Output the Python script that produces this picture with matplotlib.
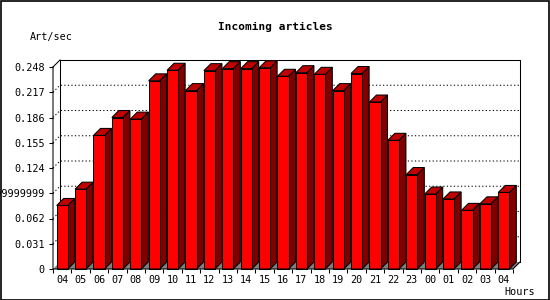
import matplotlib
matplotlib.use("Agg")
import matplotlib.pyplot as plt
from matplotlib.patches import Polygon, Rectangle

hours = ["04", "05", "06", "07", "08", "09", "10", "11", "12", "13", "14", "15",
         "16", "17", "18", "19", "20", "21", "22", "23", "00", "01", "02", "03", "04"]
values = [0.078, 0.098, 0.164, 0.186, 0.184, 0.231, 0.244, 0.219, 0.2435, 0.246,
          0.246, 0.247, 0.2366, 0.241, 0.239, 0.219, 0.240, 0.205, 0.158, 0.116,
          0.092, 0.086, 0.072, 0.080, 0.094]
yticks = [0, 0.031, 0.062, 0.093, 0.124, 0.155, 0.186, 0.217, 0.248]
ytick_labels = ["0", "0.031", "0.062", "0.0929999999999999", "0.124", "0.155",
                "0.186", "0.217", "0.248"]
title = "Incoming articles"
ylabel = "Art/sec"
xlabel = "Hours"

W, H = 550, 300
FONT = "DejaVu Sans Mono"
fig = plt.figure(figsize=(W / 100, H / 100), dpi=100)
fig.patch.set_facecolor("white")
ax = fig.add_axes([53 / W, 31 / H, 460 / W, 202 / H])
n = len(values)
ymax = yticks[-1]
ax.set_xlim(0, n)
ax.set_ylim(0, ymax)
ax.patch.set_alpha(0)
for s in ax.spines.values():
    s.set_visible(False)

dx = 7 * n / 460.0
dy = 7 * ymax / 202.0
lw = 0.75

# floor
ax.add_patch(Polygon([(0, 0), (n, 0), (n + dx, dy), (dx, dy)], closed=True,
                     facecolor="#808080", edgecolor="none", zorder=1, clip_on=False))
# gridlines on back wall
for v in yticks[1:-1]:
    ax.plot([0, dx, n + dx], [v, v + dy, v + dy], color="black", lw=lw,
            linestyle=(0, (1.2, 2.2)), zorder=1.5, clip_on=False)
# back wall outline
ax.plot([dx, dx, n + dx, n + dx], [dy, ymax + dy, ymax + dy, dy], color="black",
        lw=lw, zorder=1.6, clip_on=False)
ax.plot([0, dx], [ymax, ymax + dy], color="black", lw=lw, zorder=1.6, clip_on=False)

# bars
fw = 0.6
off = 0.2
for i, v in enumerate(values):
    x0 = i + off
    x1 = x0 + fw
    ax.add_patch(Polygon([(x1, 0), (x1 + dx, dy), (x1 + dx, v + dy), (x1, v)], closed=True,
                         facecolor="#800000", edgecolor="black", lw=lw, zorder=3, clip_on=False))
    ax.add_patch(Polygon([(x0, v), (x1, v), (x1 + dx, v + dy), (x0 + dx, v + dy)], closed=True,
                         facecolor="#C00000", edgecolor="black", lw=lw, zorder=3, clip_on=False))
    ax.add_patch(Rectangle((x0, 0), fw, v, facecolor="#FF0000", edgecolor="black",
                           lw=lw, zorder=3.5, clip_on=False))

# front axes lines
ax.plot([0, 0, n, n + dx], [ymax, 0, 0, dy], color="black", lw=lw, zorder=4, clip_on=False)

# ticks
ax.set_xticks(range(n + 1))
ax.set_xticklabels([])
ax.set_xticks([i + 0.5 for i in range(n)], minor=True)
ax.set_xticklabels(hours, minor=True, fontfamily=FONT, fontsize=7.3)
ax.tick_params(axis="x", which="major", length=3, width=lw, direction="out")
ax.tick_params(axis="x", which="minor", length=0, pad=4)
ax.set_yticks(yticks)
ax.set_yticklabels(ytick_labels, fontfamily=FONT, fontsize=7.3)
ax.tick_params(axis="y", length=3, width=lw, direction="out", pad=3)
ax.tick_params(right=False, top=False)

fig.text(275 / W, 1 - 27 / H, title, ha="center", va="center", fontfamily=FONT,
         fontweight="bold", fontsize=8.0)
fig.text(30 / W, 1 - 37 / H, ylabel, ha="left", va="center", fontfamily=FONT, fontsize=7.3)
fig.text(504 / W, 1 - 292 / H, xlabel, ha="left", va="center", fontfamily=FONT, fontsize=7.3)

fig.patches.append(Rectangle((0.5 / W, 0.5 / H), 1 - 1.5 / W, 1 - 1.5 / H,
                             transform=fig.transFigure, fill=False,
                             edgecolor="black", lw=1.2))

fig.savefig("out.png", dpi=100)
